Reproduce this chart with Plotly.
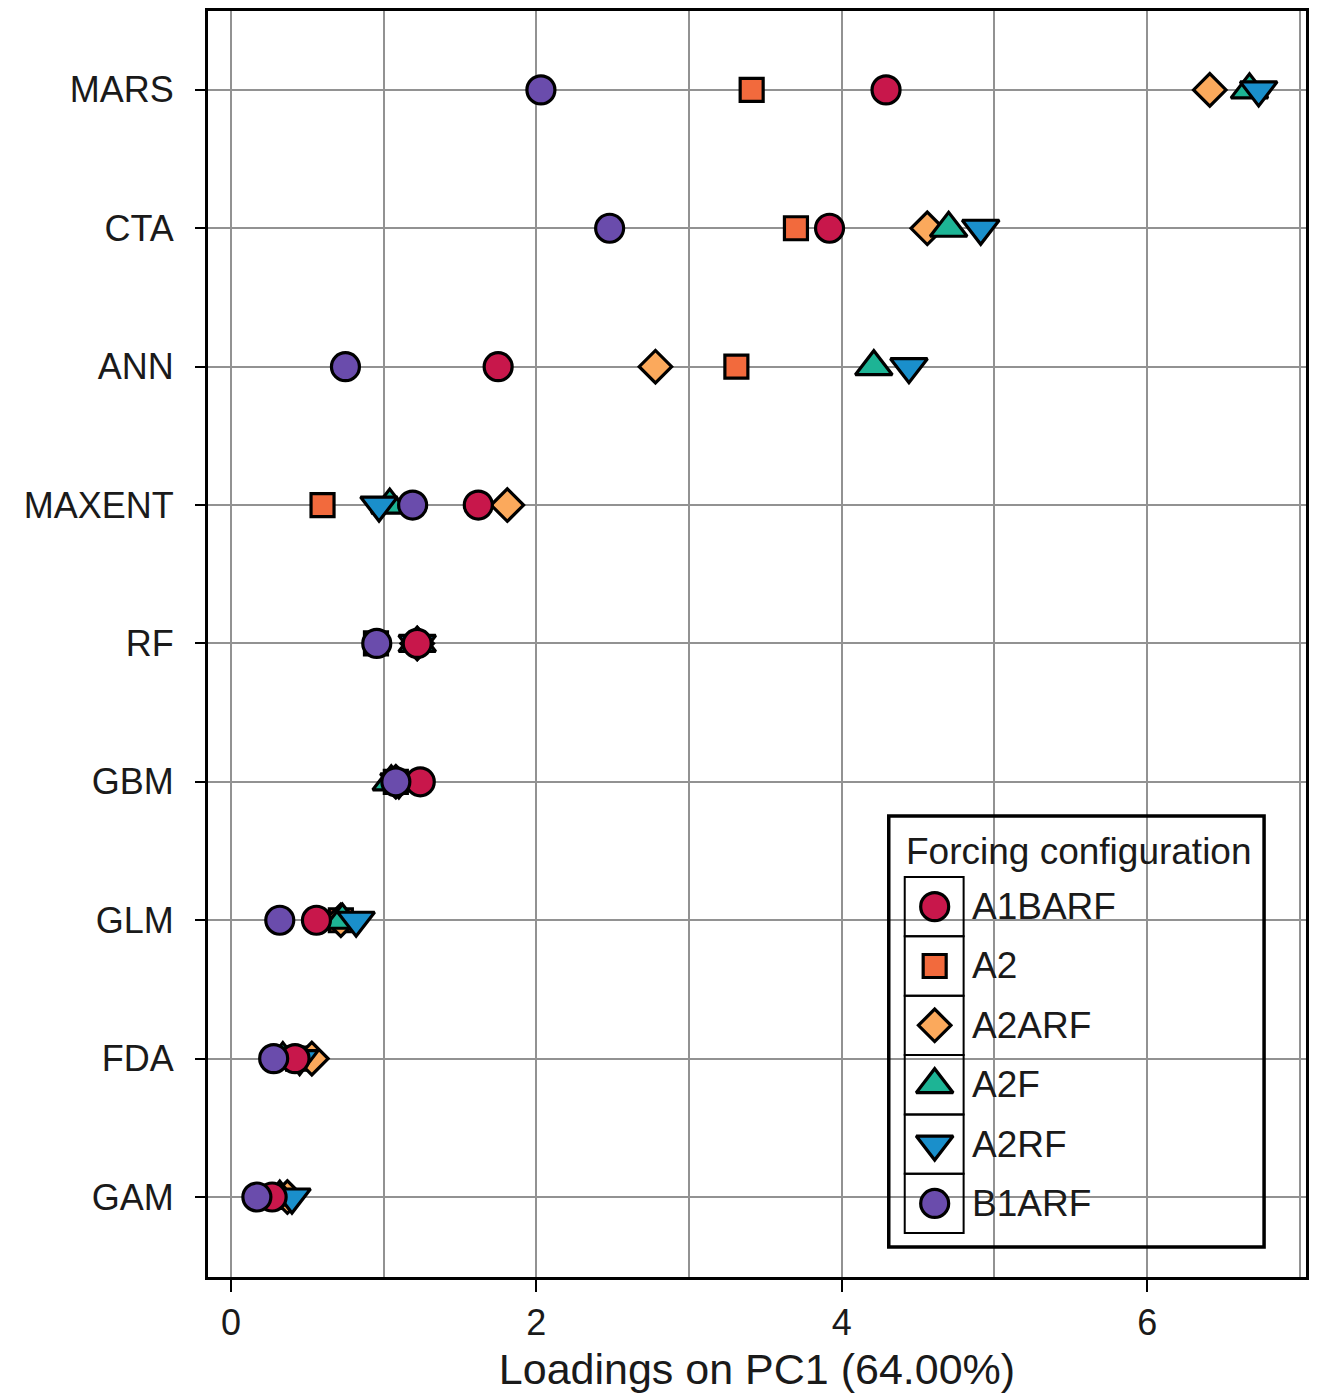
import plotly.graph_objects as go

# Model names (top to bottom) and PC1 loadings per forcing configuration
models = ["MARS", "CTA", "ANN", "MAXENT", "RF", "GBM", "GLM", "FDA", "GAM"]

a1barf = [4.29, 3.92, 1.75, 1.62, 1.22, 1.24, 0.56, 0.42, 0.27]
a2     = [3.41, 3.70, 3.31, 0.60, 0.95, 1.08, 0.72, 0.44, 0.30]
a2arf  = [6.41, 4.56, 2.78, 1.81, 1.22, 1.08, 0.72, 0.53, 0.37]
a2f    = [6.67, 4.70, 4.21, 1.04, 1.22, 1.05, 0.73, 0.34, 0.32]
a2rf   = [6.73, 4.91, 4.44, 0.97, 1.22, 1.10, 0.82, 0.45, 0.40]
b1arf  = [2.03, 2.48, 0.75, 1.19, 0.955, 1.08, 0.32, 0.28, 0.17]

x_tick_vals = [0, 2, 4, 6]
x_tick_text = ["0", "2", "4", "6"]

legend_title = "Forcing configuration"
legend_names = ["A1BARF", "A2", "A2ARF", "A2F", "A2RF", "B1ARF"]

# name -> (values, symbol, colour, size); drawing order puts circles on top
series = {
    "A2":     (a2,     "square",        "#F26A3D", 23),
    "A2ARF":  (a2arf,  "diamond",       "#FBA95C", 25),
    "A2F":    (a2f,    "triangle-up",   "#1DB495", 32),
    "A2RF":   (a2rf,   "triangle-down", "#1A8FCB", 32),
    "A1BARF": (a1barf, "circle",        "#C8174B", 28),
    "B1ARF":  (b1arf,  "circle",        "#6A4CAC", 28),
}

FONT = "Liberation Sans, Arial, sans-serif"
TXT = "#1a1a1a"
W, H = 1317, 1396
L, R, T, B = 208, 9, 8, 119
PW, PH = W - L - R, H - T - B

fig = go.Figure()
for name, (vals, sym, col, sz) in series.items():
    fig.add_trace(go.Scatter(
        x=vals, y=models, mode="markers", name=name, showlegend=False,
        marker=dict(symbol=sym, color=col, size=sz,
                    line=dict(color="black", width=3.2)),
        cliponaxis=False,
    ))


def px_x(px):
    return (px - L) / PW


def px_y(py):
    return (H - B - py) / PH


# Hand-built legend with framed key cells
shapes = []
annotations = []
box = dict(xref="paper", yref="paper",
           x0=px_x(890), x1=px_x(1266), y0=px_y(1247), y1=px_y(815))
# white fill sits over the grid but under the glyphs
shapes.append(dict(type="rect", **box, line=dict(width=0),
                   fillcolor="white", layer="between"))
shapes.append(dict(type="rect", **box, line=dict(color="black", width=3.5),
                   fillcolor="rgba(0,0,0,0)", layer="above"))
annotations.append(dict(text=legend_title, xref="paper", yref="paper",
                        x=px_x(905), y=px_y(850), xanchor="left",
                        yanchor="middle", showarrow=False,
                        font=dict(family=FONT, size=37, color=TXT)))
row_top, row_h = 876, 59.5
key_x0, key_x1 = 906, 965
for i, name in enumerate(legend_names):
    y0 = row_top + i * row_h
    shapes.append(dict(type="rect", xref="paper", yref="paper",
                       x0=px_x(key_x0), x1=px_x(key_x1),
                       y0=px_y(y0 + row_h), y1=px_y(y0),
                       line=dict(color="black", width=2),
                       fillcolor="rgba(0,0,0,0)", layer="above"))
    annotations.append(dict(text=name, xref="paper", yref="paper",
                            x=px_x(971), y=px_y(y0 + row_h / 2),
                            xanchor="left", yanchor="middle", showarrow=False,
                            font=dict(family=FONT, size=37, color=TXT)))

# Legend glyphs on an overlay axis spanning the plot area
for i, name in enumerate(legend_names):
    vals, sym, col, sz = series[name]
    yc = row_top + i * row_h + row_h / 2
    fig.add_trace(go.Scatter(
        x=[px_x(936)], y=[px_y(yc)], xaxis="x2", yaxis="y2", mode="markers",
        showlegend=False, hoverinfo="skip",
        marker=dict(symbol=sym, color=col, size=sz,
                    line=dict(color="black", width=3.2)),
    ))

fig.update_layout(
    width=W, height=H,
    margin=dict(l=L, r=R, t=T, b=B),
    paper_bgcolor="white", plot_bgcolor="white",
    font=dict(family=FONT, size=36, color=TXT),
    showlegend=False,
    shapes=shapes, annotations=annotations,
    xaxis=dict(
        range=[-0.15, 7.04], tickvals=x_tick_vals, ticktext=x_tick_text,
        showgrid=True, gridcolor="#929292", gridwidth=2,
        minor=dict(dtick=1, tick0=0, showgrid=True, gridcolor="#929292",
                   gridwidth=2, ticks=""),
        zeroline=False, showline=True, linecolor="black", linewidth=3,
        mirror=True, ticks="outside", ticklen=12, tickwidth=2,
        tickcolor="black", ticklabelstandoff=0,
        tickfont=dict(size=36),
        title=dict(text="Loadings on PC1 (64.00%)", standoff=12,
                   font=dict(size=43)),
    ),
    yaxis=dict(
        type="category", categoryorder="array",
        categoryarray=models[::-1], range=[-0.578, 8.57],
        showgrid=True, gridcolor="#929292", gridwidth=2,
        zeroline=False, showline=True, linecolor="black", linewidth=3,
        mirror=True, ticks="outside", ticklen=10, tickwidth=2,
        tickcolor="black", ticklabelstandoff=14,
        tickfont=dict(size=36),
    ),
    xaxis2=dict(overlaying="x", range=[0, 1], visible=False,
                domain=[0, 1], anchor="y2"),
    yaxis2=dict(overlaying="y", range=[0, 1], visible=False,
                domain=[0, 1], anchor="x2"),
)

fig.write_html("out.html")
